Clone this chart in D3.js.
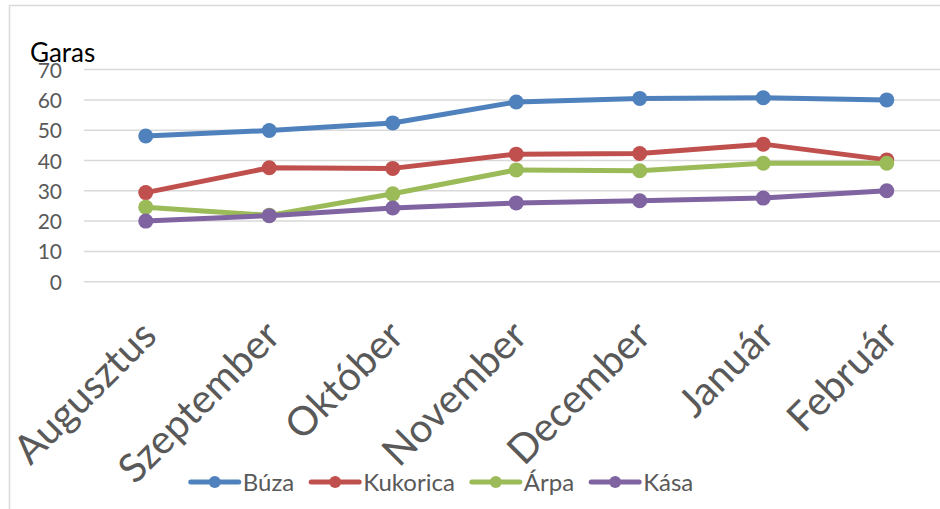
<!DOCTYPE html>
<html>
<head>
<meta charset="utf-8">
<script src="https://cdn.jsdelivr.net/npm/d3@7"></script>
<style>
  html, body { margin: 0; padding: 0; background: #fff; }
  svg { display: block; }
  text { font-family: Lato, "Open Sans", sans-serif; }
</style>
</head>
<body>
<svg id="chart" width="940" height="509"></svg>
<script>
const months = ["Augusztus", "Szeptember", "Október", "November", "December", "Január", "Február"];
const buza     = [48.1, 49.9, 52.4, 59.3, 60.5, 60.7, 60.0];
const kukorica = [29.4, 37.6, 37.4, 42.1, 42.3, 45.4, 40.2];
const arpa     = [24.6, 21.9, 29.0, 36.9, 36.6, 39.1, 39.1];
const kasa     = [20.0, 21.8, 24.3, 26.0, 26.7, 27.6, 30.0];
const seriesNames = ["Búza", "Kukorica", "Árpa", "Kása"];
const seriesColors = ["#4F81BD", "#C0504D", "#9BBB59", "#8064A2"];
const yTicks = [0, 10, 20, 30, 40, 50, 60, 70];
const yTitle = "Garas";

const series = [buza, kukorica, arpa, kasa].map((v, i) => ({ name: seriesNames[i], color: seriesColors[i], values: v }));

const svg = d3.select("#chart");
const W = 940, H = 509;

// outer frame
svg.append("rect").attr("x", 9.5).attr("y", 5.5).attr("width", 1000).attr("height", 600)
  .attr("fill", "#fff").attr("stroke", "#D9D9D9").attr("stroke-width", 1.5);

const plotLeft = 84, plotRight = 948.5;
const x = d3.scalePoint().domain(months).range([plotLeft, plotRight]).padding(0.5);
const y = d3.scaleLinear().domain([0, 70]).range([281.7, 69.6]);

// gridlines
svg.append("g").selectAll("line").data(yTicks).join("line")
  .attr("x1", plotLeft).attr("x2", W)
  .attr("y1", d => y(d)).attr("y2", d => y(d))
  .attr("stroke", "#D9D9D9").attr("stroke-width", 1.5);

// y axis labels
const yAxis = d3.axisLeft(y).tickValues(yTicks).tickSize(0).tickPadding(0);
const gy = svg.append("g").attr("transform", "translate(62,0)").call(yAxis);
gy.select(".domain").remove();
gy.selectAll("text").attr("font-size", 21).attr("fill", "#595959")
  .attr("font-family", "Lato, sans-serif").attr("dy", "0.36em");

// y title
svg.append("text").attr("x", 30).attr("y", 62).text(yTitle)
  .attr("font-size", 26).attr("fill", "#000");

// x axis labels
const xAxis = d3.axisBottom(x).tickSize(0).tickPadding(0);
const gx = svg.append("g").attr("transform", "translate(0,0)").call(xAxis);
gx.select(".domain").remove();
gx.selectAll(".tick").attr("transform", null);
gx.selectAll(".tick text")
  .attr("font-size", 40).attr("fill", "#595959").attr("font-family", "Lato, sans-serif")
  .attr("text-anchor", "end").attr("dy", 0).attr("y", null)
  .attr("transform", d => `translate(${x(d) + 13},338) rotate(-45)`);

// lines and markers
const line = d3.line().x((d, i) => x(months[i])).y(d => y(d));
const gs = svg.append("g").selectAll("g").data(series).join("g");
gs.append("path").attr("d", d => line(d.values)).attr("fill", "none")
  .attr("stroke", d => d.color).attr("stroke-width", 5).attr("stroke-linejoin", "round");
gs.each(function(s) {
  d3.select(this).selectAll("circle").data(s.values).join("circle")
    .attr("cx", (d, i) => x(months[i])).attr("cy", d => y(d)).attr("r", 7.5)
    .attr("fill", s.color);
});

// legend
const legY = 482;
const lg = svg.append("g");
const items = lg.selectAll("g").data(series).join("g");
items.append("line").attr("x1", 0).attr("x2", 48).attr("y1", 0).attr("y2", 0)
  .attr("stroke", d => d.color).attr("stroke-width", 5).attr("stroke-linecap", "round");
items.append("circle").attr("cx", 24).attr("cy", 0).attr("r", 6).attr("fill", d => d.color);
items.append("text").attr("x", 52).attr("y", 0).attr("dy", "0.36em").text(d => d.name)
  .attr("font-size", 24).attr("fill", "#595959");
let cx = 0;
items.each(function() {
  const w = this.getBBox().width;
  d3.select(this).attr("data-w", w);
});
items.attr("transform", function() {
  const w = +this.getAttribute("data-w");
  const t = `translate(${cx},${legY})`;
  cx += w + 17;
  return t;
});
const total = cx - 17;
lg.attr("transform", `translate(${442 - total / 2},0)`);
</script>
</body>
</html>
